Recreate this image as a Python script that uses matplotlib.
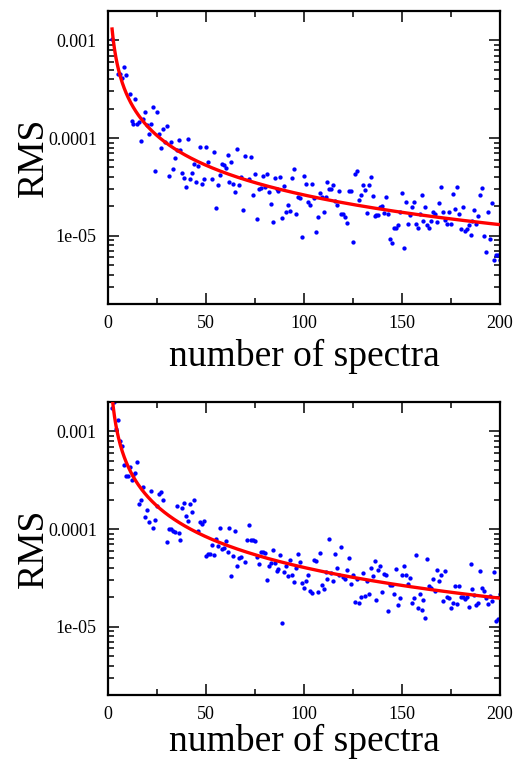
import matplotlib
matplotlib.use("Agg")
import matplotlib.pyplot as plt
import numpy as np
from matplotlib.ticker import FixedLocator, FixedFormatter, LogLocator, NullFormatter, MultipleLocator

# ---------------- data ----------------
n_top = [2, 5, 6, 7, 8, 9, 11, 12, 13, 14, 15, 16, 17, 18, 19, 20, 21, 22, 23, 24,
         25, 26, 27, 28, 29, 30, 31, 32, 33, 34, 35, 36, 37, 38, 39, 40, 41, 42, 43, 44,
         45, 46, 47, 48, 49, 50, 51, 53, 54, 55, 56, 57, 58, 59, 60, 61, 62,
         63, 64, 65, 66, 67, 68, 69, 70, 72, 73, 74, 75, 76, 77, 78, 79, 80, 81, 82,
         83, 84, 85, 86, 87, 88, 89, 90, 91, 92, 93, 94, 95, 96, 97, 98, 99, 100, 101, 102,
         103, 104, 105, 106, 107, 108, 109, 110, 111, 112, 113, 114, 115, 116, 117, 118, 119, 120, 121, 122,
         123, 124, 125, 126, 127, 128,
         129, 130, 131, 132, 133, 134, 135, 136, 137, 138, 139, 140, 141, 142, 143, 144, 145, 146, 147, 148,
         149, 150, 151, 152, 153, 154, 155, 156, 157, 158, 159, 160, 161, 162, 163, 164, 165, 166, 167, 168,
         169, 170, 171, 172, 173, 174, 175, 176, 177, 178, 179, 180, 181, 182, 183, 184, 185, 186, 187, 188,
         189, 190, 191, 192, 193, 194, 195, 196, 197, 198, 199, 200]
rms_top = [1.03e-3, 4.57e-4, 4.54e-4, 4.10e-4, 5.40e-4, 4.40e-4, 2.84e-4, 1.48e-4, 1.40e-4, 2.54e-4,
           1.41e-4, 1.47e-4, 9.33e-5, 1.55e-4, 1.85e-4, 1.37e-4, 1.09e-4, 1.38e-4, 2.09e-4, 4.57e-5,
           1.87e-4, 1.09e-4, 7.91e-5, 1.23e-4, 9.19e-5, 1.32e-4, 4.10e-5, 9.19e-5, 4.86e-5, 6.25e-5,
           7.55e-5, 9.55e-5, 7.55e-5, 4.40e-5, 3.91e-5, 3.16e-5, 9.77e-5, 3.79e-5, 4.40e-5, 5.40e-5,
           3.53e-5, 5.14e-5, 8.04e-5, 3.42e-5, 3.79e-5, 8.04e-5, 5.69e-5, 3.82e-5, 7.19e-5, 1.93e-5,
           3.29e-5, 4.23e-5, 5.47e-5, 5.26e-5, 4.94e-5, 6.65e-5, 3.56e-5,
           5.74e-5, 3.37e-5, 2.81e-5, 7.80e-5, 3.29e-5, 4.04e-5, 1.82e-5, 6.50e-5, 3.82e-5, 6.46e-5,
           2.64e-5, 4.30e-5, 1.47e-5, 3.04e-5, 3.09e-5, 4.06e-5, 3.19e-5, 4.33e-5, 2.79e-5,
           2.09e-5, 1.39e-5, 3.91e-5, 3.02e-5, 2.88e-5, 3.97e-5, 1.53e-5, 3.21e-5, 1.75e-5, 2.06e-5,
           1.79e-5, 3.94e-5, 4.83e-5, 1.66e-5, 2.48e-5, 2.43e-5, 9.62e-6, 4.06e-5, 3.40e-5, 2.24e-5,
           2.07e-5, 3.40e-5, 2.41e-5, 1.08e-5, 1.54e-5, 2.77e-5, 2.48e-5, 1.77e-5, 2.48e-5, 3.59e-5,
           3.02e-5, 2.99e-5, 3.29e-5, 2.26e-5, 2.06e-5, 2.86e-5, 1.66e-5, 1.65e-5, 1.54e-5, 1.36e-5,
           2.88e-5, 2.88e-5, 8.69e-6, 4.30e-5, 4.57e-5, 2.31e-5,
           2.60e-5, 3.32e-5, 2.95e-5, 1.71e-5, 3.32e-5, 3.97e-5, 2.58e-5, 1.59e-5, 1.63e-5, 1.63e-5,
           1.98e-5, 2.04e-5, 1.71e-5, 2.52e-5, 1.65e-5, 9.18e-6, 8.49e-6, 1.20e-5, 1.20e-5, 1.29e-5,
           1.73e-5, 2.75e-5, 7.49e-6, 2.21e-5, 1.31e-5, 1.63e-5, 1.95e-5, 2.21e-5, 1.31e-5, 1.20e-5,
           1.68e-5, 2.60e-5, 1.40e-5, 1.96e-5, 1.29e-5, 1.19e-5, 1.40e-5, 1.75e-5, 1.68e-5, 1.39e-5,
           2.17e-5, 3.14e-5, 1.75e-5, 1.45e-5, 1.32e-5, 1.75e-5, 1.32e-5, 2.70e-5, 1.87e-5, 3.12e-5,
           1.68e-5, 1.17e-5, 1.98e-5, 1.11e-5, 1.16e-5, 1.29e-5, 1.01e-5, 1.43e-5, 1.82e-5, 1.32e-5,
           1.60e-5, 2.60e-5, 3.07e-5, 9.93e-6, 6.76e-6, 1.76e-5, 9.33e-6, 2.16e-5, 5.65e-6, 6.30e-6,
           6.35e-6, 5.65e-6]

n_bot = [2, 3, 4, 5, 6, 7, 8, 9, 10, 11, 12, 13, 14, 15, 16, 17, 18, 19, 20, 21,
         22, 23, 24, 25, 26, 27, 28, 30, 31, 32, 33, 34, 35, 36, 37, 38, 39, 40, 41, 42,
         43, 44, 46, 47, 48, 49, 50, 51, 52, 53, 54, 55, 56, 57, 58, 59, 60, 61,
         62, 63, 64, 65, 66, 67, 68, 70, 71, 72, 73, 74, 75, 76, 77, 78, 79, 80, 81, 82,
         83, 84, 85, 86, 87, 88, 89, 90, 91, 92, 93, 94, 95, 96, 97, 98, 99, 100, 101, 102,
         103, 104, 105, 106, 107, 108, 109, 110, 111, 112, 113, 114, 115, 116, 117, 118, 119, 120, 121, 122,
         123, 124, 125, 126, 127, 128,
         129, 130, 131, 132, 133, 134, 135, 136, 137, 138, 139, 140, 141, 142, 143, 144, 145, 146, 147, 148,
         149, 150, 151, 152, 153, 154, 155, 156, 157, 158, 159, 160, 161, 162, 163, 164, 165, 166, 167, 168,
         169, 170, 171, 172, 173, 174, 175, 176, 177, 178, 179, 180, 181, 182, 183, 184, 185, 186, 187, 188,
         189, 190, 191, 192, 193, 194, 195, 196, 197, 198, 199, 200]
rms_bot = [1.73e-3, 1.98e-3, 1.06e-3, 1.30e-3, 7.91e-4, 7.03e-4, 4.54e-4, 3.53e-4, 3.53e-4, 4.30e-4,
           3.16e-4, 3.59e-4, 3.76e-4, 4.87e-4, 1.79e-4, 2.00e-4, 2.73e-4, 1.32e-4, 1.58e-4, 1.19e-4,
           2.48e-4, 1.03e-4, 1.24e-4, 1.73e-4, 2.30e-4, 2.39e-4, 2.00e-4, 7.43e-5, 9.93e-5, 1.01e-4,
           9.48e-5, 9.40e-5, 1.72e-4, 9.12e-5, 7.67e-5, 1.65e-4, 1.83e-4, 1.36e-4, 1.20e-4, 1.80e-4,
           1.49e-4, 2.00e-4, 9.48e-5, 1.17e-4, 1.12e-4, 1.21e-4, 5.31e-5, 5.52e-5, 5.61e-5, 6.92e-5,
           5.43e-5, 7.91e-5, 6.76e-5, 1.03e-4, 6.25e-5, 6.46e-5, 7.55e-5, 5.78e-5,
           1.03e-4, 3.34e-5, 5.31e-5, 9.55e-5, 4.16e-5, 5.02e-5, 5.18e-5, 4.65e-5, 7.73e-5, 1.10e-4,
           7.78e-5, 7.73e-5, 7.60e-5, 5.22e-5, 4.44e-5, 5.87e-5, 5.87e-5, 5.69e-5, 3.04e-5, 4.23e-5,
           4.53e-5, 6.05e-5, 4.53e-5, 3.73e-5, 3.88e-5, 5.40e-5, 1.08e-5, 3.61e-5, 4.16e-5, 3.29e-5,
           4.79e-5, 3.42e-5, 2.86e-5, 3.97e-5, 5.52e-5, 4.65e-5, 2.83e-5, 2.50e-5, 2.97e-5, 3.42e-5,
           2.35e-5, 2.22e-5, 4.83e-5, 4.68e-5, 2.26e-5, 5.74e-5, 2.66e-5, 2.46e-5, 3.64e-5, 3.06e-5,
           7.91e-5, 3.56e-5, 2.94e-5, 5.56e-5, 4.00e-5, 3.40e-5, 6.50e-5, 3.27e-5, 3.09e-5, 3.78e-5,
           5.02e-5, 2.73e-5, 3.40e-5, 1.79e-5, 3.09e-5, 1.76e-5,
           2.01e-5, 3.53e-5, 2.06e-5, 2.92e-5, 2.14e-5, 4.04e-5, 3.34e-5, 4.68e-5, 1.87e-5, 3.79e-5,
           4.20e-5, 2.26e-5, 3.45e-5, 3.37e-5, 1.44e-5, 2.70e-5, 2.66e-5, 2.17e-5, 3.94e-5, 1.68e-5,
           1.98e-5, 3.37e-5, 4.16e-5, 3.42e-5, 2.75e-5, 3.14e-5, 1.76e-5, 1.95e-5, 5.47e-5, 1.55e-5,
           2.14e-5, 1.47e-5, 1.86e-5, 1.22e-5, 4.91e-5, 2.64e-5, 2.50e-5, 3.07e-5, 2.31e-5, 3.79e-5,
           2.97e-5, 3.37e-5, 1.82e-5, 3.76e-5, 2.03e-5, 1.95e-5, 1.56e-5, 1.75e-5, 2.60e-5, 1.73e-5,
           2.64e-5, 2.00e-5, 2.00e-5, 1.92e-5, 2.04e-5, 1.61e-5, 4.36e-5, 2.43e-5, 2.10e-5, 1.66e-5,
           1.75e-5, 3.73e-5, 2.50e-5, 2.30e-5, 1.95e-5, 1.71e-5, 2.06e-5, 1.82e-5, 3.67e-5, 1.15e-5,
           1.20e-5, 2.17e-5]

# power-law fit curves rms = A * n^(-B)
fit_top = (2.74e-3, 1.01)
fit_bot = (4.98e-3, 1.045)

ytick_vals = [1e-5, 1e-4, 1e-3]
ytick_labels = ["1e-05", "0.0001", "0.001"]
xtick_vals = [0, 50, 100, 150, 200]
xlabel_text = "number of spectra"
ylabel_text = "RMS"

# ---------------- plotting ----------------
plt.rcParams['font.family'] = ['Liberation Serif', 'DejaVu Serif']

fig = plt.figure(figsize=(5.13, 7.60), dpi=100)
ax1 = fig.add_axes([0.2105, 0.600, 0.764, 0.3855])
ax2 = fig.add_axes([0.2105, 0.0855, 0.764, 0.3855])

for ax, nn, rr, fit, xly in [(ax1, n_top, rms_top, fit_top, -0.12),
                             (ax2, n_bot, rms_bot, fit_bot, -0.098)]:
    ax.set_yscale('log')
    ax.set_xlim(0, 200)
    ax.set_ylim(2e-6, 2e-3)
    ax.plot(nn, rr, 'o', color='#0000ff', ms=3.1, mew=0, zorder=2)
    nc = np.linspace(2, 200, 600)
    ax.plot(nc, fit[0] * nc ** (-fit[1]), color='#ff0000', lw=2.4, zorder=3,
            solid_capstyle='butt')
    ax.yaxis.set_major_locator(FixedLocator(ytick_vals))
    ax.yaxis.set_major_formatter(FixedFormatter(ytick_labels))
    ax.yaxis.set_minor_locator(LogLocator(base=10, subs=np.arange(2, 10), numticks=20))
    ax.yaxis.set_minor_formatter(NullFormatter())
    ax.xaxis.set_major_locator(FixedLocator(xtick_vals))
    ax.xaxis.set_minor_locator(MultipleLocator(25))
    ax.tick_params(which='both', direction='in', top=True, right=True, width=1.1, colors='black')
    ax.tick_params(which='major', length=8, labelsize=13, pad=8)
    ax.tick_params(which='minor', length=4.3)
    for s in ax.spines.values():
        s.set_linewidth(1.6)
    ax.set_xlabel(xlabel_text, fontsize=27)
    ax.set_ylabel(ylabel_text, fontsize=27)
    ax.xaxis.set_label_coords(0.5, xly)
    ax.yaxis.set_label_coords(-0.145, 0.5)

fig.savefig("out.png", dpi=100)
